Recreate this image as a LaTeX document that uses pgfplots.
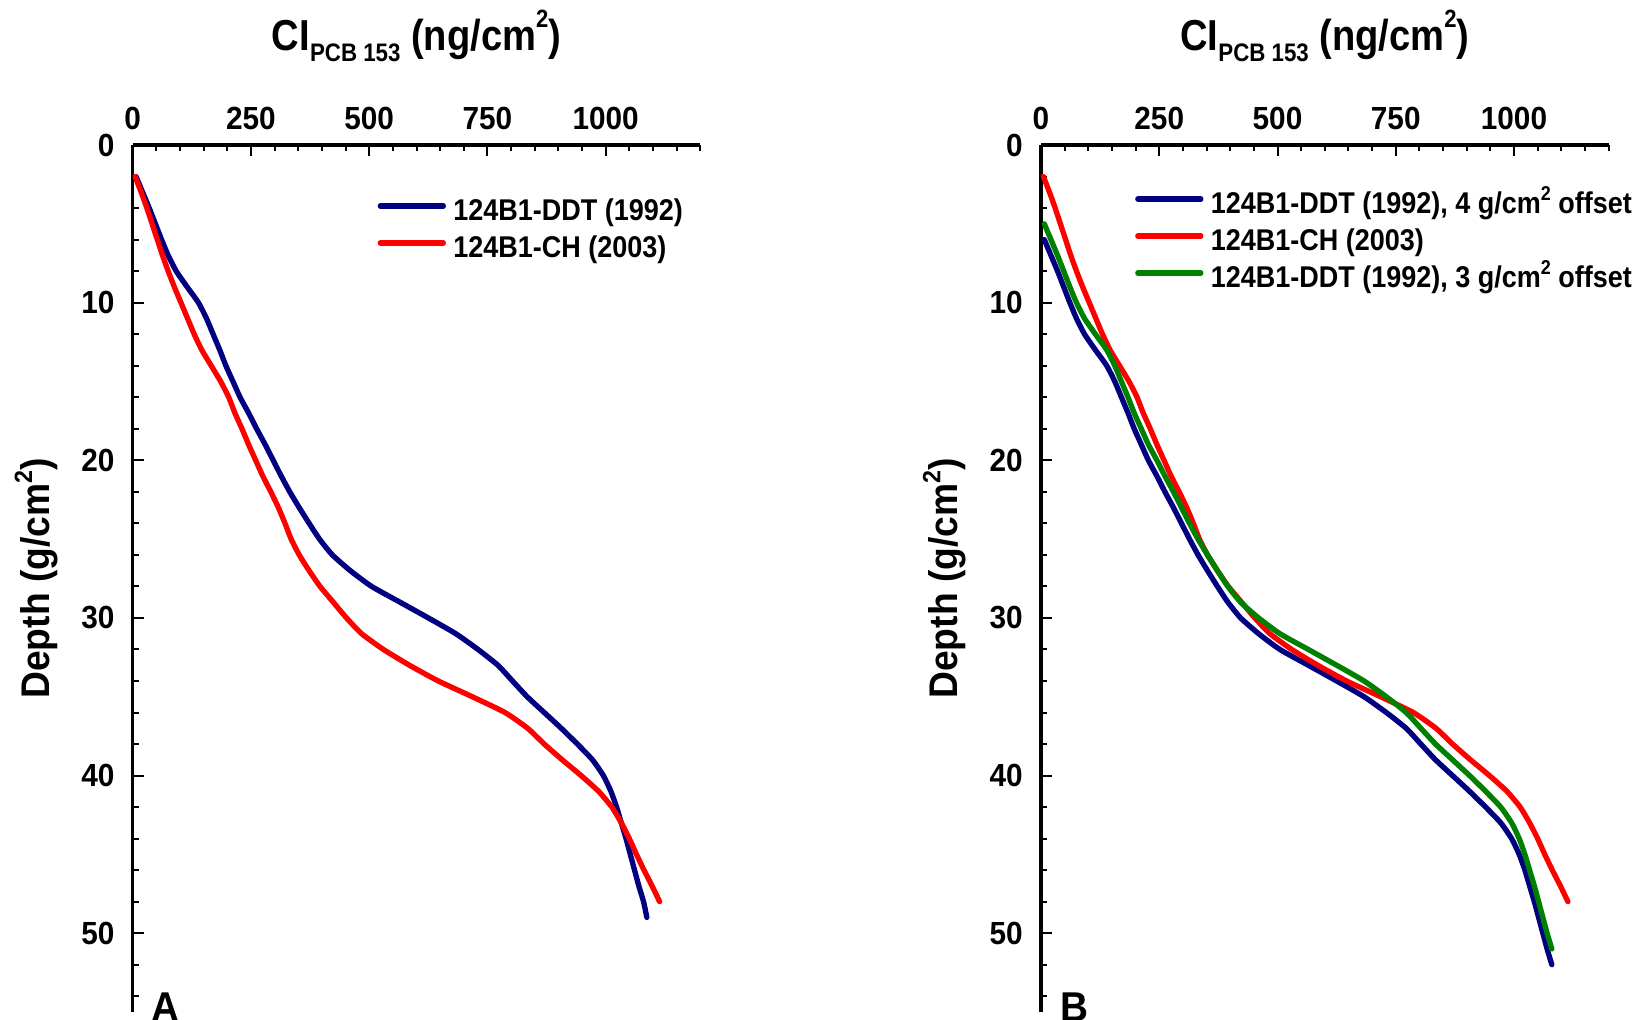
\documentclass[border=0pt]{standalone}
\usepackage{fontspec}
\setmainfont{Liberation Sans}
\newfontfamily\cond{Liberation Sans}[FakeStretch=0.93]
\newfontfamily\legf{Liberation Sans}[FakeStretch=0.9]
\newfontfamily\narrow{Liberation Sans}[FakeStretch=0.88]
\usepackage{pgfplots}
\pgfplotsset{compat=1.18}
\usepackage{pgfplotstable}

\definecolor{navyb}{RGB}{0,0,128}
\definecolor{redl}{RGB}{255,0,0}
\definecolor{greenl}{RGB}{0,128,0}

\newcommand{\ttl}{{\narrow\bfseries\fontsize{13}{13}\selectfont CI\raisebox{-3.5pt}{\fontsize{7.6}{7.6}\selectfont PCB 153} (ng/cm\raisebox{6.8pt}{\fontsize{7.5}{7.5}\selectfont 2})}}
\newcommand{\ylab}{{\cond\bfseries\fontsize{12}{12}\selectfont Depth (g/cm\raisebox{5.2pt}{\fontsize{7.5}{7.5}\selectfont 2})}}
\newcommand{\sq}{\raisebox{4pt}{\fontsize{6}{6}\selectfont 2}}

% 124B1-DDT (1992): x = CI, y = depth
\pgfplotstableread{
x y
7 2
21 3
35 4
48 5
61 6
75 7
92 8
115 9
139 10
156 11
170 12
184 13
197 14
212 15
227 16
245 17
262 18
280 19
297 20
314 21
332 22
352 23
373 24
395 25
422 26
460 27
505 28
565 29
625 30
683 31
730 32
772 33
803 34
834 35
870 36
906 37
940 38
972 39
995 40
1011 41
1023 42
1033 43
1043 44
1052 45
1061 46
1070 47
1080 48
1087 49
}\ddtA

% 124B1-CH (2003)
\pgfplotstableread{
x y
5 2
18 3
30 4
41 5
52 6
63 7
75 8
88 9
102 10
116 11
130 12
146 13
166 14
186 15
203 16
216 17
231 18
245 19
260 20
275 21
292 22
308 23
322 24
335 25
352 26
373 27
396 28
424 29
452 30
484 31
530 32
585 33
646 34
718 35
787 36
835 37
870 38
908 39
948 40
985 41
1013 42
1033 43
1050 44
1065 45
1081 46
1098 47
1114 48
}\chA

% 124B1-DDT (1992), 4 g/cm2 offset
\pgfplotstableread{
x y
7 6
21 7
35 8
48 9
61 10
75 11
92 12
115 13
139 14
156 15
170 16
184 17
197 18
212 19
227 20
245 21
262 22
280 23
297 24
314 25
332 26
352 27
373 28
395 29
422 30
460 31
505 32
565 33
625 34
683 35
730 36
772 37
803 38
834 39
870 40
906 41
940 42
972 43
995 44
1011 45
1023 46
1033 47
1043 48
1052 49
1061 50
1070 51
1080 52
}\ddtB

% 124B1-DDT (1992), 3 g/cm2 offset
\pgfplotstableread{
x y
7 5
21 6
35 7
48 8
61 9
75 10
92 11
115 12
139 13
156 14
170 15
184 16
197 17
212 18
227 19
245 20
262 21
280 22
297 23
314 24
332 25
352 26
373 27
395 28
422 29
460 30
505 31
565 32
625 33
683 34
730 35
772 36
803 37
834 38
870 39
906 40
940 41
972 42
995 43
1011 44
1023 45
1033 46
1043 47
1052 48
1061 49
1070 50
1080 51
}\ddtC

\pgfplotsset{
  cistyle/.style={
    scale only axis, width=170.28pt, height=260.1pt,
    xmin=0, xmax=1200, ymin=0, ymax=55, y dir=reverse,
    axis x line=top, axis y line=left,
    axis line style={line width=1pt, -},
    xtick={0,250,500,750,1000}, xticklabels={0,250,500,750,1000},
    ytick={0,10,20,30,40,50}, yticklabels={0,10,20,30,40,50},
    minor xtick={50,100,...,1200}, minor ytick={2,4,...,54},
    tick align=inside,
    major tick length=3.3pt, minor tick length=1.8pt,
    every tick/.style={black, line width=0.6pt},
    tick label style={font=\cond\bfseries\fontsize{9.6}{9.6}\selectfont, inner sep=0pt},
    xticklabel style={anchor=south, yshift=4.5pt},
    yticklabel style={anchor=east, xshift=-5.3pt},
    xlabel={\ttl},
    xlabel style={at={(axis description cs:0.5,1)}, anchor=base, yshift=28.5pt, inner sep=0pt},
    ylabel={\ylab},
    ylabel style={at={([xshift=-28.9pt]axis description cs:0,0.5)}, anchor=center, inner sep=0pt},
    legend style={draw=none, fill=none, anchor=north west,
      font=\legf\bfseries\fontsize{9}{9}\selectfont,
      row sep=2.3pt, column sep=2.2pt, inner sep=0pt,
      nodes={inner sep=0pt, text height=6.6pt, text depth=2.2pt}},
    legend cell align=left,
    legend image code/.code={\draw[##1] (0pt,2.2pt) -- (18.9pt,2.2pt);},
    every axis plot/.append style={line width=1.6pt, line cap=round, line join=round, smooth, tension=0.35},
    clip=false,
  }
}

\begin{document}
\begin{tikzpicture}
\begin{axis}[cistyle, at={(39.81pt,-43.5pt)}, anchor=north west,
  legend style={at={(axis description cs:0.4304,0.939)}}]
\addplot[navyb] table[x=x,y=y] {\ddtA};
\addlegendentry{124B1-DDT (1992)}
\addplot[redl] table[x=x,y=y] {\chA};
\addlegendentry{124B1-CH (2003)}
\node[anchor=base west, inner sep=0pt, font=\cond\bfseries\fontsize{12.5}{12.5}\selectfont] at (axis description cs:0,0) [xshift=5.5pt, yshift=-2.8pt] {A};
\end{axis}
\begin{axis}[cistyle, at={(312.3pt,-43.5pt)}, anchor=north west,
  legend style={at={(axis description cs:0.1647,0.947)}}]
\addplot[navyb] table[x=x,y=y] {\ddtB};
\addlegendentry{124B1-DDT (1992), 4 g/cm\sq{} offset}
\addplot[redl] table[x=x,y=y] {\chA};
\addlegendentry{124B1-CH (2003)}
\addplot[greenl] table[x=x,y=y] {\ddtC};
\addlegendentry{124B1-DDT (1992), 3 g/cm\sq{} offset}
\node[anchor=base west, inner sep=0pt, font=\cond\bfseries\fontsize{12.5}{12.5}\selectfont] at (axis description cs:0,0) [xshift=5.5pt, yshift=-2.8pt] {B};
\end{axis}
\pgfresetboundingbox
\useasboundingbox (0pt,0pt) rectangle (490.5pt,-305.7pt);
\end{tikzpicture}
\end{document}
